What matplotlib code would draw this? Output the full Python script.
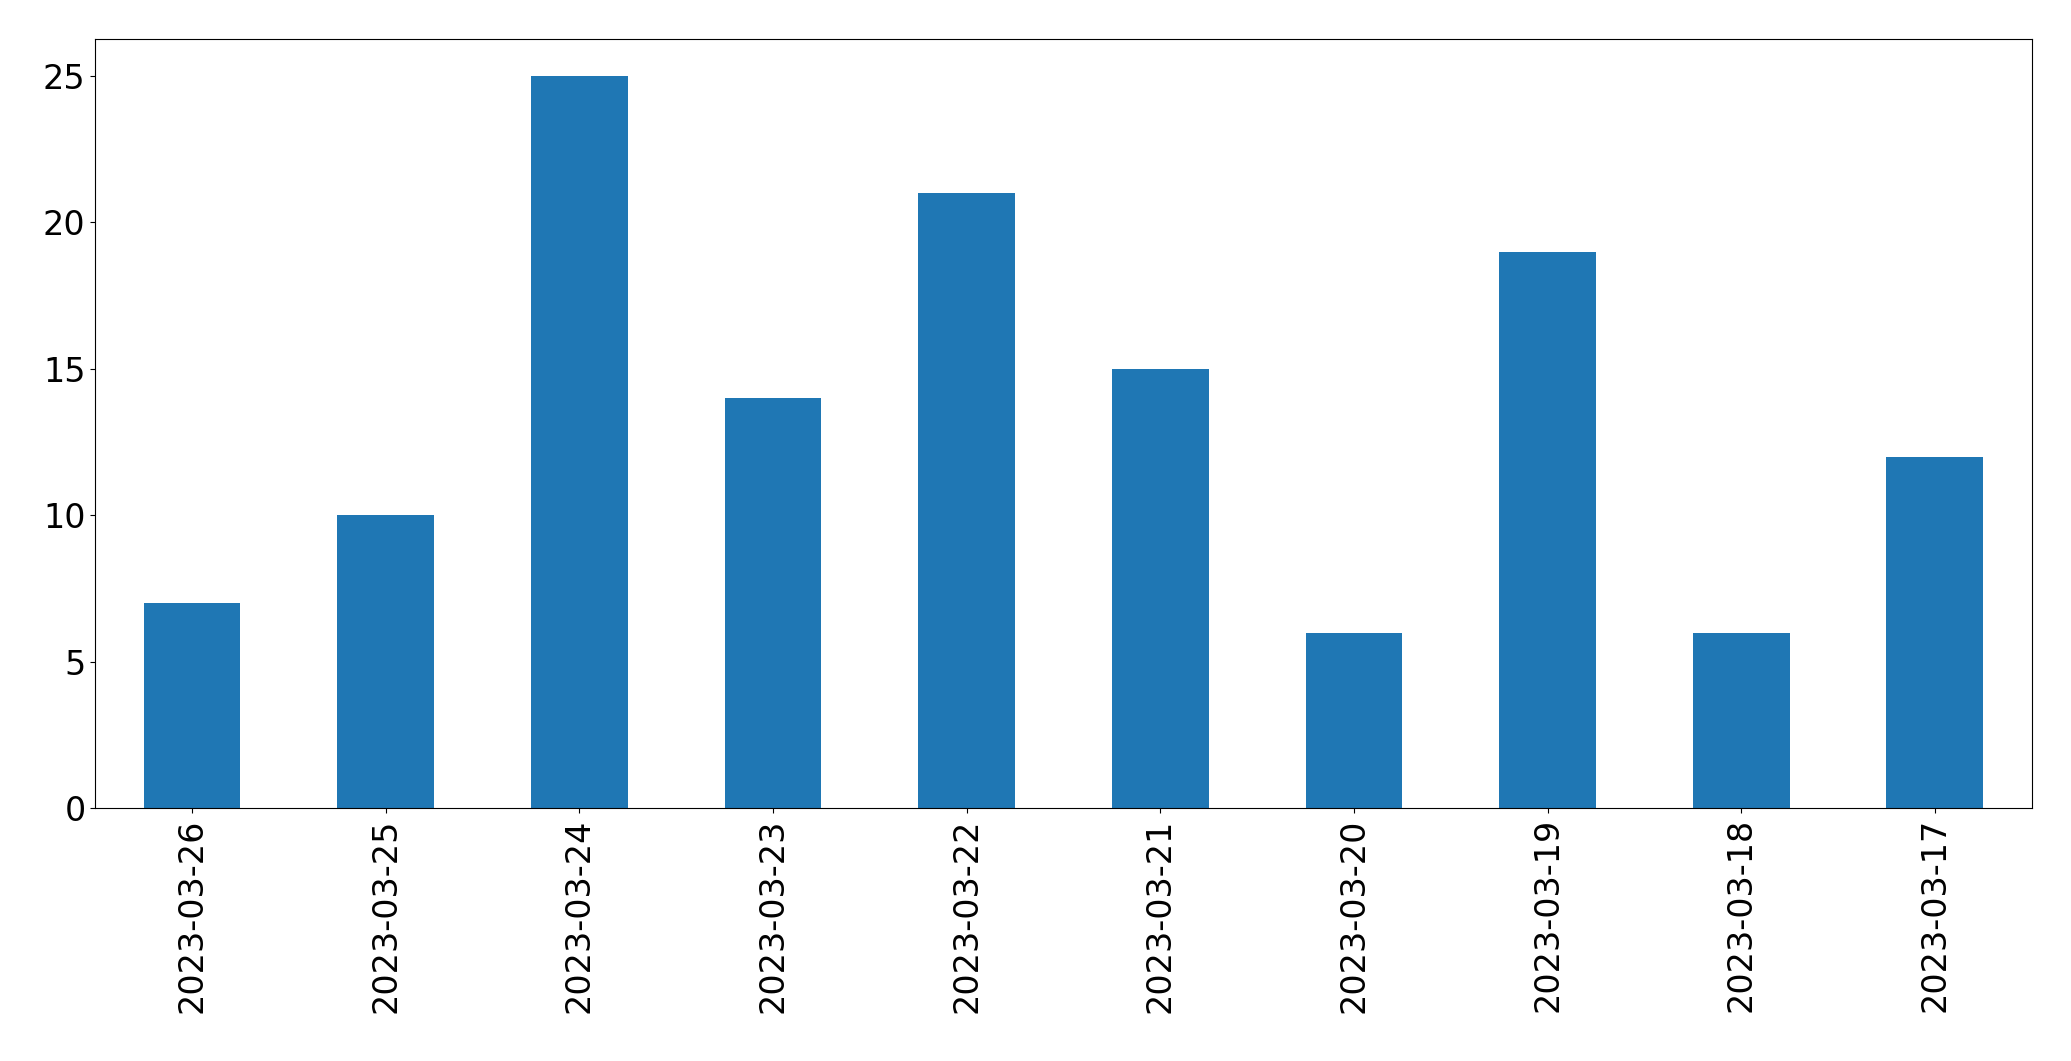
import matplotlib
matplotlib.use("Agg")
import matplotlib.pyplot as plt
import pandas as pd

dates = ["2023-03-26", "2023-03-25", "2023-03-24", "2023-03-23", "2023-03-22",
         "2023-03-21", "2023-03-20", "2023-03-19", "2023-03-18", "2023-03-17"]
counts = [7, 10, 25, 14, 21, 15, 6, 19, 6, 12]

s = pd.Series(counts, index=dates)

fig, ax = plt.subplots(figsize=(20.71, 10.61), dpi=100)
s.plot(kind="bar", ax=ax, color="#1f77b4")
ax.tick_params(axis="both", labelsize=24)
fig.subplots_adjust(left=0.046, right=0.981, top=0.963, bottom=0.238)
fig.savefig("out.png", dpi=100)
